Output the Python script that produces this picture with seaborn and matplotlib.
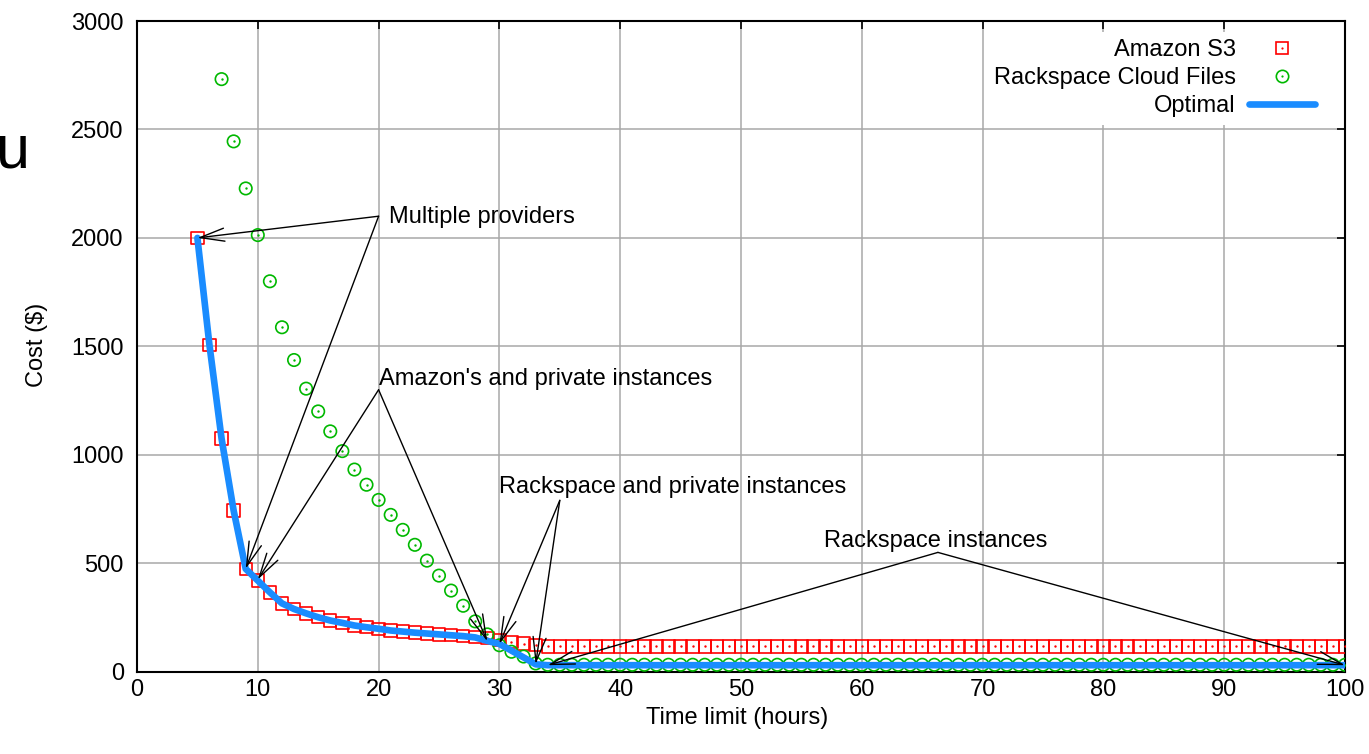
import matplotlib
matplotlib.use("Agg")
import matplotlib.pyplot as plt
from matplotlib.lines import Line2D
import seaborn as sns
import pandas as pd

# ---------------- data ----------------
series_names = ["Amazon S3", "Rackspace Cloud Files", "Optimal"]

hours_s3 = list(range(5, 101))
cost_s3 = [2000, 1505, 1075, 743, 474, 420, 366, 315, 289, 269, 251, 236, 225,
           213, 205, 198, 190, 185, 180, 176, 172, 168, 164, 160, 155, 145, 137,
           130, 124] + [117] * 67

hours_rs = list(range(7, 101))
cost_rs = [2732, 2445, 2228, 2013, 1800, 1588, 1437, 1305, 1200, 1108, 1017, 932,
           862, 792, 723, 654, 585, 512, 443, 374, 304, 232, 172, 122, 92, 70,
           38] + [32] * 67

hours_opt = list(range(5, 35)) + [100]
cost_opt = [2000, 1505, 1075, 743, 474, 420, 366, 315, 289, 269, 251, 236, 225,
            213, 205, 198, 190, 185, 180, 176, 172, 168, 164, 158, 142, 128, 97,
            66, 34, 30, 30]

x_ticks = list(range(0, 101, 10))
y_ticks = list(range(0, 3001, 500))

ann_labels = ["Multiple providers", "Amazon's and private instances",
              "Rackspace and private instances", "Rackspace instances"]
ann_origins = [(20, 2100), (20, 1300), (35, 790), (66.3, 550)]
ann_tips = [[(5, 2000), (9, 475)],
            [(10, 425), (29, 140)],
            [(30, 128), (33, 35)],
            [(34, 30), (100, 30)]]
ann_text_pos = [(20.9, 2071), (20.05, 1320), (30.0, 823), (56.9, 577)]

# ---------------- styling ----------------
sns.set_theme(style="white")
plt.rcParams["font.family"] = ["Liberation Sans", "DejaVu Sans"]
plt.rcParams["text.color"] = "black"
plt.rcParams["axes.labelcolor"] = "black"
plt.rcParams["xtick.color"] = "black"
plt.rcParams["ytick.color"] = "black"

RED = "#ff0000"
GREEN = "#00b800"
BLUE = "#1a8cff"
FS = 17

fig = plt.figure(figsize=(13.69, 7.54), dpi=100)
ax = fig.add_axes([137 / 1369, (754 - 671.7) / 754, 1208 / 1369, 650.7 / 754])

df_s3 = pd.DataFrame({"hours": hours_s3, "cost": cost_s3})
df_rs = pd.DataFrame({"hours": hours_rs, "cost": cost_rs})
df_opt = pd.DataFrame({"hours": hours_opt, "cost": cost_opt})

sns.scatterplot(data=df_s3, x="hours", y="cost", marker="s", s=80,
                facecolor="none", edgecolor=RED, linewidth=1.2, ax=ax,
                legend=False, zorder=3)
sns.scatterplot(data=df_s3, x="hours", y="cost", marker="o", s=3,
                color=RED, linewidth=0, ax=ax, legend=False, zorder=3)
sns.scatterplot(data=df_rs, x="hours", y="cost", marker="o", s=80,
                facecolor="none", edgecolor=GREEN, linewidth=1.2, ax=ax,
                legend=False, zorder=3)
sns.scatterplot(data=df_rs, x="hours", y="cost", marker="o", s=3,
                color=GREEN, linewidth=0, ax=ax, legend=False, zorder=3)
sns.lineplot(data=df_opt, x="hours", y="cost", color=BLUE, linewidth=4.8,
             ax=ax, legend=False, zorder=4, sort=True, errorbar=None)

ax.set_xlim(0, 100)
ax.set_ylim(0, 3000)
ax.set_xticks(x_ticks)
ax.set_yticks(y_ticks)
ax.grid(True, color="#a8a8a8", linewidth=1.1)
ax.set_axisbelow(True)
for sp in ax.spines.values():
    sp.set_visible(True)
    sp.set_color("black")
    sp.set_linewidth(1.5)
ax.tick_params(axis="both", direction="in", length=5.5, width=1.2,
               color="black", labelsize=FS, top=True, right=True,
               labelcolor="black")
ax.tick_params(axis="x", pad=5)
ax.tick_params(axis="y", pad=9.5)

ax.set_xlabel("Time limit (hours)", fontsize=FS, color="black")
ax.set_ylabel("Cost ($)", fontsize=FS, color="black")
ax.xaxis.set_label_coords(0.4965, -0.0535)
ax.yaxis.set_label_coords(-0.0735, 0.503)

# annotations
arrow_kw = dict(arrowstyle="->,head_length=1.75,head_width=0.47",
                color="black", lw=1.0, shrinkA=0, shrinkB=0,
                mutation_scale=10)
for label, (ox, oy), tips, (tx, ty) in zip(ann_labels, ann_origins, ann_tips,
                                           ann_text_pos):
    for (px, py) in tips:
        ax.annotate("", xy=(px, py), xytext=(ox, oy), arrowprops=arrow_kw,
                    zorder=5)
    ax.text(tx, ty, label, fontsize=FS, ha="left", va="baseline",
            color="black", zorder=5)

# legend
h_s3 = (Line2D([], [], marker="s", ls="none", mfc="none", mec=RED, ms=8.9,
               mew=1.2),
        Line2D([], [], marker="o", ls="none", color=RED, ms=1.6, mew=0))
h_rs = (Line2D([], [], marker="o", ls="none", mfc="none", mec=GREEN, ms=8.9,
               mew=1.2),
        Line2D([], [], marker="o", ls="none", color=GREEN, ms=1.6, mew=0))
h_opt = Line2D([], [], color=BLUE, lw=4.8)
leg = ax.legend([h_s3, h_rs, h_opt], series_names, loc="upper right",
                bbox_to_anchor=(0.981, 0.983), markerfirst=False,
                frameon=True, fancybox=False, framealpha=1, facecolor="white",
                fontsize=FS, handlelength=2.8, handletextpad=0.55,
                labelspacing=0.26, borderpad=0.3, borderaxespad=0,
                labelcolor="black")
leg.get_frame().set_linewidth(0)

# stray glyph at the left edge of the reference
fig.text(-4 / 1369, (754 - 167) / 754, "u", fontsize=44, ha="left",
         va="baseline", color="black")

fig.savefig("out.png", dpi=100)
